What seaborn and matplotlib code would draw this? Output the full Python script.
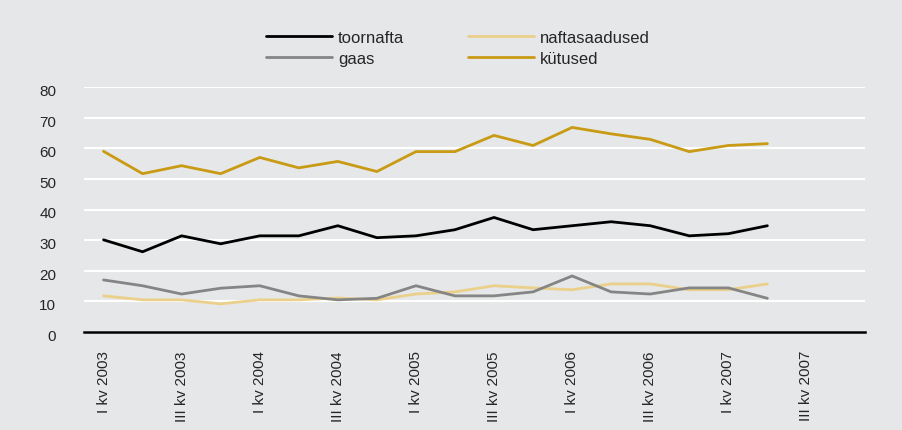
import numpy as np
import pandas as pd
import matplotlib
matplotlib.use("Agg")
import matplotlib.pyplot as plt
import matplotlib.transforms as mtransforms
import seaborn as sns

# quarters I kv 2003 .. II kv 2007 (data), axis runs to IV kv 2007
quarters = ["I kv 2003", "II kv 2003", "III kv 2003", "IV kv 2003",
            "I kv 2004", "II kv 2004", "III kv 2004", "IV kv 2004",
            "I kv 2005", "II kv 2005", "III kv 2005", "IV kv 2005",
            "I kv 2006", "II kv 2006", "III kv 2006", "IV kv 2006",
            "I kv 2007", "II kv 2007", "III kv 2007", "IV kv 2007"]

toornafta = [30.1, 26.2, 31.4, 28.8, 31.4, 31.4, 34.7, 30.8, 31.4, 33.4,
             37.4, 33.4, 34.7, 36.0, 34.7, 31.4, 32.1, 34.7]
gaas = [17.0, 15.1, 12.4, 14.3, 15.1, 11.8, 10.5, 11.0, 15.1, 11.8,
        11.8, 13.1, 18.3, 13.1, 12.4, 14.4, 14.4, 11.0]
naftasaadused = [11.8, 10.5, 10.5, 9.2, 10.5, 10.5, 11.1, 10.5, 12.4, 13.1,
                 15.1, 14.4, 13.8, 15.7, 15.7, 13.8, 13.8, 15.7]
kytused = [59.0, 51.7, 54.3, 51.7, 57.0, 53.6, 55.7, 52.4, 58.9, 58.9,
           64.2, 60.9, 66.8, 64.7, 62.9, 58.9, 60.9, 61.5]

series_names = ["toornafta", "naftasaadused", "gaas", "kütused"]
colors = {"toornafta": "#000000", "naftasaadused": "#ead08a",
          "gaas": "#858585", "kütused": "#c99a14"}

rows = []
for name, vals in zip(series_names, [toornafta, naftasaadused, gaas, kytused]):
    for i, v in enumerate(vals):
        rows.append({"q": i, "value": v, "series": name})
df = pd.DataFrame(rows)

bg = "#e6e7e8"
sns.set_style("white")
plt.rcParams["font.family"] = ["Liberation Sans", "DejaVu Sans"]

fig = plt.figure(figsize=(9.02, 4.31), dpi=100, facecolor=bg)
ax = fig.add_axes([84 / 902, 1 - 333 / 431, (865 - 84) / 902, (333 - 88) / 431])
ax.set_facecolor(bg)

sns.lineplot(data=df, x="q", y="value", hue="series", hue_order=series_names,
             palette=colors, linewidth=2, ax=ax, legend=False)

ax.set_xlim(-0.5, len(quarters) - 0.5)
ax.set_ylim(0, 80)
ax.set_yticks(range(0, 81, 10))
ax.set_xticks(range(0, len(quarters), 2))
ax.set_xticklabels(quarters[::2], rotation=90, fontsize=11, va="top")
ax.tick_params(axis="x", length=0, pad=13)
ax.tick_params(axis="y", length=0, pad=20, labelsize=11)
ax.yaxis.grid(True, color="white", linewidth=1.5)
ax.set_axisbelow(True)
for s in ["top", "left", "right"]:
    ax.spines[s].set_visible(False)
ax.spines["bottom"].set_color("black")
ax.spines["bottom"].set_linewidth(1.8)
ax.set_xlabel("")
ax.set_ylabel("")

# y labels sit a little below their grid lines in the original
offset = mtransforms.ScaledTranslation(0, -2.5 / 100, fig.dpi_scale_trans)
for lab in ax.get_yticklabels():
    lab.set_transform(lab.get_transform() + offset)

handles = [plt.Line2D([], [], color=colors[n], linewidth=2) for n in
           ["toornafta", "gaas", "naftasaadused", "kütused"]]
fig.legend(handles, ["toornafta", "gaas", "naftasaadused", "kütused"],
           ncol=2, frameon=False, loc="upper left",
           bbox_to_anchor=(251 / 902, 1 - 16 / 431), fontsize=12,
           handlelength=3.96, columnspacing=3.8, labelspacing=0.35,
           handletextpad=0.36)

fig.savefig("out.png", dpi=100, facecolor=bg)
